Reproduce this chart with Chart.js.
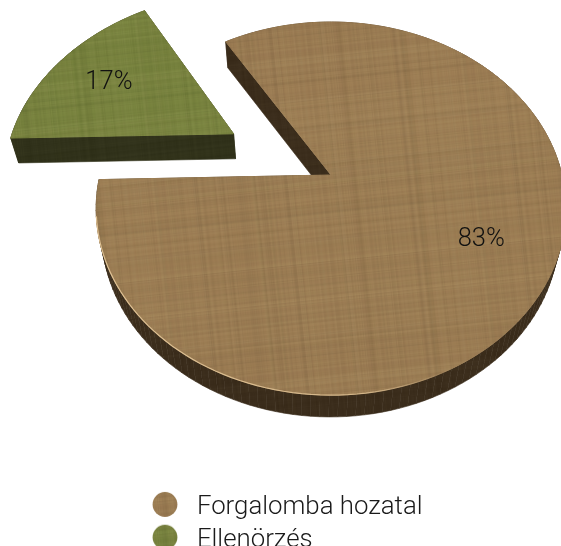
<!DOCTYPE html>
<html><head><meta charset="utf-8">
<style>html,body{margin:0;padding:0;background:#fff;overflow:hidden}canvas{display:block}</style>
<script src="https://cdn.jsdelivr.net/npm/chart.js@4"></script>
</head><body><canvas id="c" width="561" height="546"></canvas>
<script>
const categories = ['Forgalomba hozatal', 'Ellenörzés'];
const shares = [83.4, 16.6];
const explode = [0, 0.5];
const topColors = ['#9c7c53', '#78833e'];
const sideColors = ['#3b2d1c', '#30311a'];
const FONT = 'Roboto';

// deterministic linen weave
function hash(n){const s=Math.sin(n*12.9898)*43758.5453;return s-Math.floor(s);}
function weave(base, amount){
  const c=document.createElement('canvas');c.width=c.height=320;
  const g=c.getContext('2d');g.fillStyle=base;g.fillRect(0,0,320,320);
  for(let i=0;i<320;i++){
    const a=hash(i+1),b=hash(i+500),w=hash(i+900)>.7?3:1;
    g.fillStyle=(a>.5?'rgba(255,240,200,':'rgba(0,0,0,')+(b*amount).toFixed(3)+')';
    g.fillRect(0,i,320,w);
    const a2=hash(i+1300),b2=hash(i+1700),w2=hash(i+2100)>.7?3:1;
    g.fillStyle=(a2>.5?'rgba(255,240,200,':'rgba(0,0,0,')+(b2*amount).toFixed(3)+')';
    g.fillRect(i,0,w2,320);
  }
  const p=g.createPattern(c,'repeat');
  p.setTransform(new DOMMatrix().rotate(-6));
  return p;
}
const ctx0=document.getElementById('c').getContext('2d');
const topPatterns=topColors.map(c=>weave(c,.028));
const sidePatterns=sideColors.map(c=>weave(c,.012));

function dot(pattern){
  const c=document.createElement('canvas');c.width=28;c.height=34;
  const g=c.getContext('2d');g.fillStyle=pattern;g.beginPath();g.arc(15,13.5,12.4,0,Math.PI*2);g.fill();
  return c;
}
const dots=topPatterns.map(dot);

// perspective of the tilted disc
const view={ax:331,ay:175,R:231,Q:180.5,p:.18};
function project(u,v){const d=1-view.p*v;return [view.ax+view.R*u/d, view.ay+view.Q*v/d];}
function drop(P){return [306+.973*(P[0]-306), P[1]+25-(P[1]-130)*.012];}

function slicePts(el,i){
  const {startAngle:a0,endAngle:a1}=el.getProps(['startAngle','endAngle'],true);
  const mid=(a0+a1)/2,ox=explode[i]*Math.cos(mid),oy=explode[i]*Math.sin(mid);
  const arc=[],n=160;
  for(let k=0;k<=n;k++){const a=a0+(a1-a0)*k/n;arc.push(project(ox+Math.cos(a),oy+Math.sin(a)));}
  return {apex:project(ox,oy),arc,mid,ox,oy};
}
function poly(ctx,pts){ctx.beginPath();pts.forEach((p,i)=>i?ctx.lineTo(p[0],p[1]):ctx.moveTo(p[0],p[1]));ctx.closePath();}

const perspectivePie={
  id:'perspectivePie',
  afterLayout(chart){
    const l=chart.legend;
    l.left=137;l.right=460;l.top=488;l.bottom=640;
  },
  beforeDatasetDraw(chart){
    const ctx=chart.ctx,meta=chart.getDatasetMeta(0);
    ctx.save();
    meta.data.forEach((el,i)=>{
      const s=slicePts(el,i),outline=[s.apex,...s.arc];
      ctx.fillStyle=sidePatterns[i];ctx.strokeStyle=sidePatterns[i];ctx.lineWidth=.6;
      for(let k=0;k<outline.length;k++){
        const P=outline[k],N=outline[(k+1)%outline.length];
        poly(ctx,[P,N,drop(N),drop(P)]);ctx.fill();ctx.stroke();
      }
      poly(ctx,outline);
      ctx.fillStyle=topPatterns[i];ctx.fill();
      ctx.strokeStyle=topPatterns[i];ctx.lineWidth=1;ctx.stroke();
      if(i===0){
        const g=ctx.createLinearGradient(100,0,450,0);
        g.addColorStop(0,'rgba(226,196,150,.95)');g.addColorStop(.75,'rgba(226,196,150,.8)');g.addColorStop(1,'rgba(226,196,150,0)');
        ctx.beginPath();let on=false;
        s.arc.forEach(p=>{if(p[1]>215&&p[0]<470){on?ctx.lineTo(p[0],p[1]):ctx.moveTo(p[0],p[1]);on=true;}});
        ctx.strokeStyle=g;ctx.lineWidth=1.2;ctx.stroke();
      }
    });
    ctx.restore();
    return false;
  },
  afterDatasetsDraw(chart){
    const ctx=chart.ctx,meta=chart.getDatasetMeta(0),vals=chart.data.datasets[0].data;
    const sum=vals.reduce((a,b)=>a+b,0);
    ctx.save();ctx.font='300 25.5px '+FONT;ctx.fillStyle='#111';ctx.textAlign='center';ctx.textBaseline='middle';
    meta.data.forEach((el,i)=>{
      const s=slicePts(el,i),r=.7,q=project(s.ox+r*Math.cos(s.mid),s.oy+r*Math.sin(s.mid));
      ctx.fillText(Math.round(vals[i]/sum*100)+'%',q[0]-1,q[1]+1);
    });
    ctx.restore();
  }
};

new Chart(ctx0,{
  type:'pie',
  data:{labels:categories,datasets:[{data:shares,backgroundColor:topPatterns,borderWidth:0}]},
  options:{
    responsive:false,animation:false,rotation:-31.7,
    layout:{padding:0},
    plugins:{
      tooltip:{enabled:false},
      legend:{position:'left',align:'start',
        labels:{usePointStyle:true,boxHeight:18,pointStyleWidth:40,padding:7,color:'#1a1a1a',
          font:{family:FONT,size:25.8,weight:'300',lineHeight:1},
          generateLabels(chart){
            return Chart.overrides.pie.plugins.legend.labels.generateLabels(chart)
              .map((item,i)=>Object.assign(item,{pointStyle:dots[i]}));
          }}}
    }
  },
  plugins:[perspectivePie]
});
</script></body></html>
